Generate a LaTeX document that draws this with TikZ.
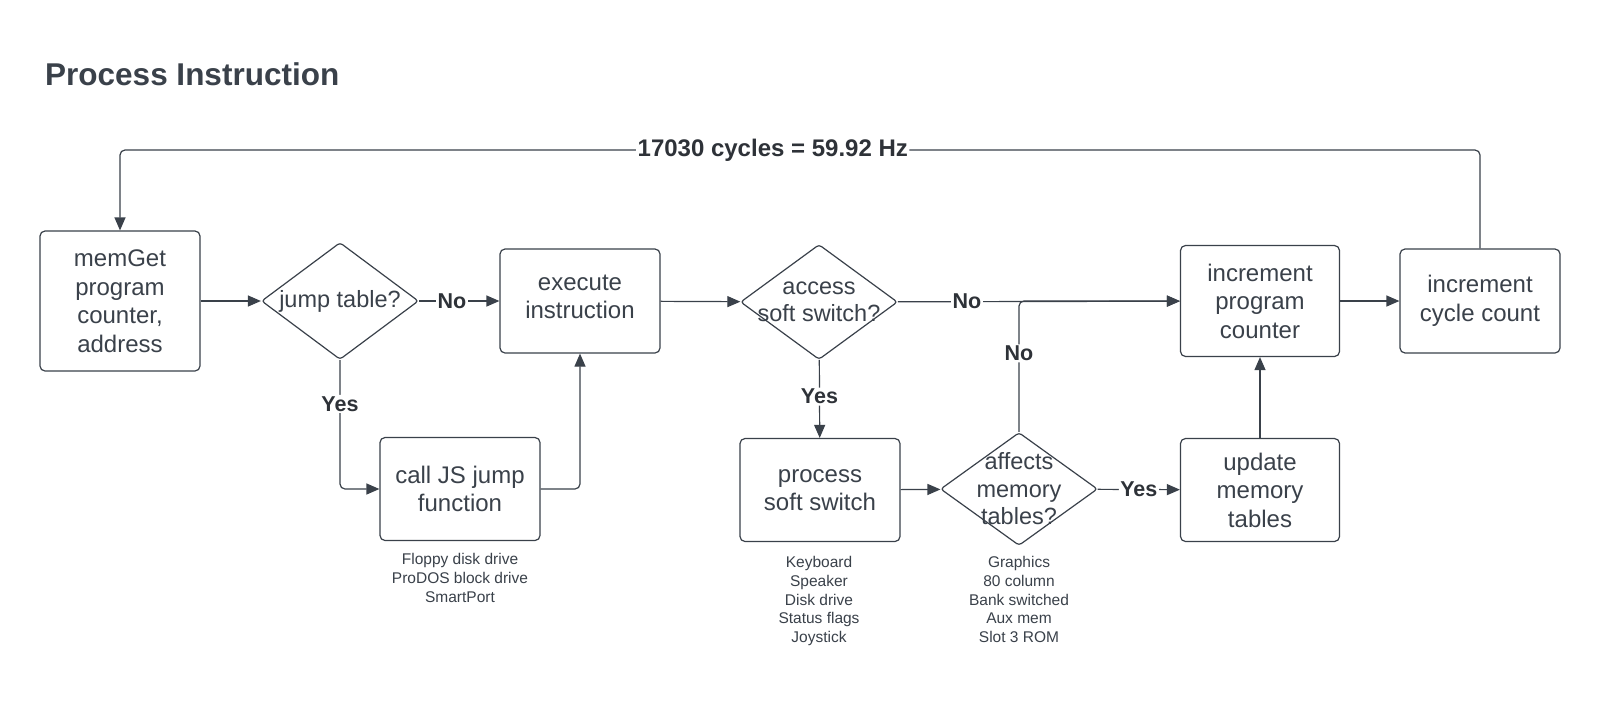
\documentclass[tikz,border=0pt]{standalone}
\usepackage{fontspec}
\setmainfont{Liberation Sans}
\usetikzlibrary{shapes.geometric,arrows.meta}
\definecolor{ink}{HTML}{3A414A}
\definecolor{lbl}{HTML}{2E3238}
\begin{document}
\begin{tikzpicture}[x=1pt,y=-1pt,
  box/.style={draw=ink, line width=1.2pt, rounded corners=5pt, inner sep=0pt, align=center, font=\fontsize{24}{28.5}\selectfont, text=ink},
  btxt/.style={align=center, font=\fontsize{24}{28.5}\selectfont, text=ink, inner sep=0pt},
  dia/.style={draw=ink, line width=1.2pt, shape=diamond, rounded corners=3pt, inner sep=0pt},
  dtxt/.style={align=center, font=\fontsize{23.5}{27.5}\selectfont, text=ink, inner sep=0pt},
  small/.style={align=center, font=\fontsize{15.5}{18.8}\selectfont, text=ink, inner sep=0pt, anchor=north},
  yn/.style={font=\bfseries\fontsize{21.5}{25}\selectfont, text=lbl, fill=white, inner sep=1.5pt},
  conn/.style={draw=ink, line width=1.2pt, -{Triangle[length=13pt,width=11pt]}, rounded corners=5pt},
]
\fill[white] (0,0) rectangle (1600,713);
\useasboundingbox (0,0) rectangle (1600,713);

\node[anchor=base west, font=\bfseries\fontsize{31.5}{36}\selectfont, text=ink, inner sep=0pt] (title) at (45,85) {Process Instruction};

\node[box, minimum width=160pt, minimum height=140pt] (mem) at (120,301) {memGet\\program\\counter,\\address};
\node[dia, minimum width=157pt, minimum height=117pt] (jt) at (340,301) {};
\node[dtxt] (jtt) at (jt) {jump table?};
\node[box, minimum width=160pt, minimum height=104pt] (ex) at (580,301) {};
\node[btxt] (ext) at ([yshift=4pt]ex.center) {execute\\instruction};
\node[box, minimum width=160pt, minimum height=103pt] (js) at (460,489) {call JS jump\\function};
\node[dia, minimum width=157pt, minimum height=115pt] (ss) at (819,302) {};
\node[dtxt] (sst) at (ss) {access\\soft switch?};
\node[box, minimum width=160pt, minimum height=103pt] (ps) at (820,490) {process\\soft switch};
\node[dia, minimum width=157pt, minimum height=113pt] (mt) at (1019,489) {};
\node[dtxt] (mtt) at (mt) {affects\\memory\\tables?};
\node[box, minimum width=159pt, minimum height=111pt] (pc) at (1260,301) {increment\\program\\counter};
\node[box, minimum width=159pt, minimum height=103pt] (um) at (1260,490) {update\\memory\\tables};
\node[box, minimum width=160pt, minimum height=104pt] (cc) at (1480,301) {increment\\cycle count};

\node[small] (jsn) at (460,553) {Floppy disk drive\\ProDOS block drive\\SmartPort};
\node[small] (psn) at (819,556) {Keyboard\\Speaker\\Disk drive\\Status flags\\Joystick};
\node[small] (mtn) at (1019,556) {Graphics\\80 column\\Bank switched\\Aux mem\\Slot 3 ROM};

\coordinate (top) at (0,150);

\draw[conn] (mem) -- (jt);
\draw[conn] (jt) -- node[yn, pos=0.41]{No} (ex);
\draw[conn] (jt.south) |- node[yn, pos=0.17]{Yes} (js.west);
\draw[conn] (js.east) -| (ex.south);
\draw[conn] (ex) -- (ss);
\draw[conn] (ss) -- node[yn, pos=0.245]{No} (pc);
\draw[conn] (ss) -- node[yn, pos=0.47]{Yes} (ps);
\draw[conn] (ps) -- (mt);
\draw[conn] (mt) -- node[yn, pos=0.5]{Yes} (um);
\draw[conn] (mt.north) |- node[yn, pos=0.3]{No} (pc.west);
\draw[conn] (um) -- (pc);
\draw[conn] (pc) -- (cc);
\draw[conn] (cc.north) -- (cc.north |- top) -- node[yn, pos=0.52, font=\bfseries\fontsize{24}{28}\selectfont]{17030 cycles = 59.92 Hz} (mem.north |- top) -- (mem.north);
\end{tikzpicture}
\end{document}
